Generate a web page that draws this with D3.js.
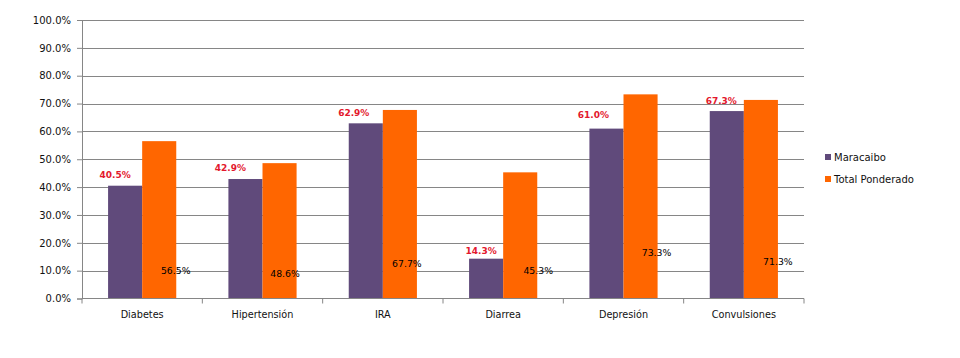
<!DOCTYPE html>
<html><head><meta charset="utf-8">
<script src="https://cdn.jsdelivr.net/npm/d3@7"></script>
<style>body{margin:0;background:#fff;} svg{display:block;}</style>
</head><body>
<svg id="c" width="960" height="358"></svg>
<script>
const categories = ["Diabetes","Hipertensión","IRA","Diarrea","Depresión","Convulsiones"];
const seriesNames = ["Maracaibo","Total Ponderado"];
const maracaibo = [40.5, 42.9, 62.9, 14.3, 61.0, 67.3];
const totalPonderado = [56.5, 48.6, 67.7, 45.3, 73.3, 71.3];
const yTicks = [0,10,20,30,40,50,60,70,80,90,100];
// label layout (manually placed labels in original)
const redLabelDx = [-10, -15, -12, -5, -13, -5.5];
const redLabelDy = [10.6, 10.7, 10.7, 8.3, 14, 10];
const totalLabelDx = [16.5, 5.5, 7, 18, 16, 17];
const totalLabelAt = [10.0, 8.8, 12.6, 10.0, 16.3, 13.1];

const colors = ["#604a7b", "#ff6600"];
const font = "DejaVu Sans";
const svg = d3.select("#c");
const m = {l:82, t:20, r:804, b:298.5};

const x0 = d3.scaleBand().domain(categories).range([m.l, m.r]).padding(0);
const x1 = d3.scaleBand().domain(seriesNames).range([0, x0.bandwidth()]).paddingInner(0).paddingOuter(0.765);
const y = d3.scaleLinear().domain([0,100]).range([m.b, m.t]);

// gridlines + y axis
const yAxis = d3.axisLeft(y).tickValues(yTicks).tickSize(5).tickFormat(d => d.toFixed(1) + "%");
const gy = svg.append("g").attr("transform", `translate(${m.l},0)`).call(yAxis);
gy.select(".domain").attr("stroke", "#868686");
gy.selectAll(".tick line").attr("stroke", "#868686");
gy.selectAll(".tick text").attr("font-family", font).attr("font-size", 10).attr("fill", "#111").attr("x", -11);
svg.append("g").selectAll("line").data(yTicks.filter(d => d > 0)).join("line")
  .attr("x1", m.l).attr("x2", m.r).attr("y1", d => Math.round(y(d)) + 0.5).attr("y2", d => Math.round(y(d)) + 0.5)
  .attr("stroke", "#868686").attr("stroke-width", 1);

// bars
const data = [maracaibo, totalPonderado];
const g = svg.append("g");
categories.forEach((c, i) => {
  seriesNames.forEach((s, j) => {
    g.append("rect")
      .attr("x", x0(c) + x1(s)).attr("width", x1.bandwidth())
      .attr("y", y(data[j][i])).attr("height", m.b - y(data[j][i]))
      .attr("fill", colors[j]);
  });
});

// x axis
const gx = svg.append("g").attr("transform", `translate(0,${m.b})`);
gx.append("line").attr("x1", m.l).attr("x2", m.r).attr("stroke", "#868686");
const bounds = d3.range(categories.length + 1).map(k => m.l + k * x0.step());
gx.selectAll("line.t").data(bounds).join("line").attr("class","t")
  .attr("x1", d => d).attr("x2", d => d).attr("y1", 0).attr("y2", 5).attr("stroke", "#868686");
gx.selectAll("text").data(categories).join("text")
  .attr("x", d => x0(d) + x0.bandwidth()/2).attr("y", 19)
  .attr("text-anchor", "middle").attr("font-family", font).attr("font-size", 9.7).attr("fill", "#111")
  .text(d => d);

// labels
categories.forEach((c, i) => {
  const cx = x0(c) + x1(seriesNames[0]) + x1.bandwidth()/2;
  svg.append("text").attr("x", cx + redLabelDx[i]).attr("y", y(maracaibo[i]) - redLabelDy[i])
    .attr("dy", "0.35em").attr("text-anchor", "middle")
    .attr("font-family", font).attr("font-size", 9).attr("font-weight", "bold").attr("fill", "#e3182d")
    .text(maracaibo[i].toFixed(1) + "%");
  const ox = x0(c) + x1(seriesNames[1]) + x1.bandwidth()/2;
  svg.append("text").attr("x", ox + totalLabelDx[i]).attr("y", y(totalLabelAt[i]))
    .attr("dy", "0.35em").attr("text-anchor", "middle")
    .attr("font-family", font).attr("font-size", 9.3).attr("fill", "#000")
    .text(totalPonderado[i].toFixed(1) + "%");
});

// legend
const lg = svg.append("g").attr("transform", "translate(825,154)");
seriesNames.forEach((s, j) => {
  lg.append("rect").attr("x", 0).attr("y", j * 22).attr("width", 6).attr("height", 6).attr("fill", colors[j]);
  lg.append("text").attr("x", 9).attr("y", j * 22 + 3).attr("dy", "0.35em")
    .attr("font-family", font).attr("font-size", 10).attr("fill", "#111").text(s);
});
</script>
</body></html>
